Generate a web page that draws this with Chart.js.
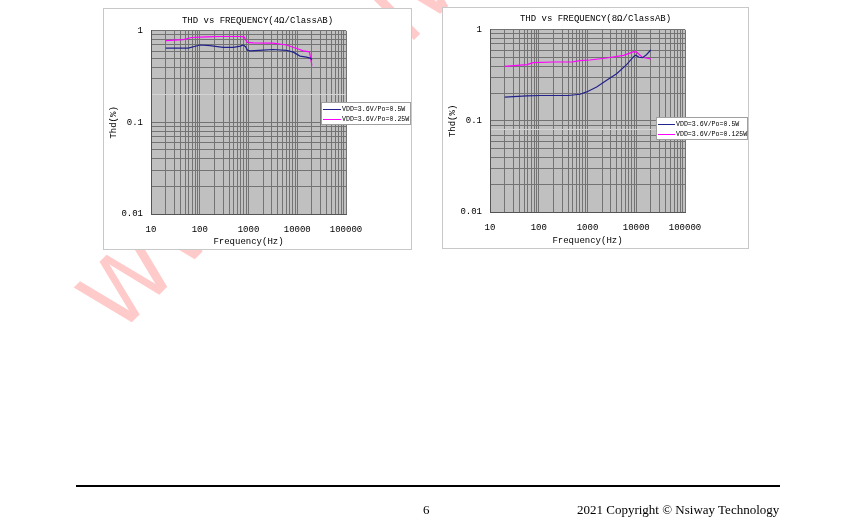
<!DOCTYPE html>
<html>
<head>
<meta charset="utf-8">
<script src="https://cdn.jsdelivr.net/npm/chart.js@4.4.0/dist/chart.umd.min.js"></script>
<style>
  body { margin: 0; background: #fff; width: 850px; height: 526px; position: relative; overflow: hidden; }
  #mark { position: absolute; left: 0; top: 0; }
  .box { position: absolute; border: 1px solid #c8c8c8; background: #fff; }
  .box div { position: relative; width: 307px; height: 240px; }
  #rule { position: absolute; left: 76px; top: 485px; width: 704px; height: 2px; background: #000; }
  .foot { position: absolute; top: 502px; font: 13px "Liberation Serif", serif; color: #000; white-space: nowrap; }
</style>
</head>
<body>
<canvas id="mark" width="850" height="526"></canvas>
<div class="box" style="left:103px; top:8px;"><div><canvas id="thd4"></canvas></div></div>
<div class="box" style="left:442px; top:7px;"><div style="width:305px"><canvas id="thd8"></canvas></div></div>
<div id="rule"></div>
<div class="foot" style="left:423px;">6</div>
<div class="foot" style="left:577px;">2021 Copyright © Nsiway Technology</div>

<script>
// axis ticks
const xMajor = [10, 100, 1000, 10000, 100000];
const xTickLabels = ['10', '100', '1000', '10000', '100000'];
const yMajor = [0.01, 0.1, 1];
const yTickLabels = ['0.01', '0.1', '1'];

// 4 ohm
const freq4Blue = [20, 58, 101, 162, 302, 490, 680, 780, 870, 950, 1070, 2000, 3200, 6000, 8300, 11400, 15500, 19000, 20000];
const thd4Blue = [0.647, 0.647, 0.70, 0.69, 0.66, 0.66, 0.68, 0.70, 0.67, 0.615, 0.605, 0.615, 0.625, 0.61, 0.585, 0.53, 0.515, 0.50, 0.48];
const freq4Pink = [20, 46, 68, 138, 260, 680, 810, 890, 950, 1260, 3200, 6000, 9800, 13300, 17800, 20000];
const thd4Pink = [0.78, 0.80, 0.845, 0.86, 0.867, 0.867, 0.86, 0.785, 0.746, 0.74, 0.735, 0.70, 0.64, 0.605, 0.59, 0.418];

// 8 ohm
const freq8Blue = [20, 57, 107, 405, 700, 960, 1540, 2470, 3960, 6340, 8900, 9800, 11400, 13400, 16200, 19800];
const thd8Blue = [0.182, 0.188, 0.19, 0.19, 0.196, 0.208, 0.236, 0.28, 0.33, 0.414, 0.51, 0.525, 0.50, 0.494, 0.533, 0.60];
const freq8Pink = [20, 57, 77, 200, 480, 700, 1120, 2470, 5500, 8900, 10200, 13200, 15800, 19800];
const thd8Pink = [0.397, 0.414, 0.436, 0.443, 0.443, 0.458, 0.466, 0.49, 0.525, 0.575, 0.57, 0.50, 0.49, 0.48];

// watermark behind the charts
const mk = document.getElementById('mark').getContext('2d');
mk.save();
mk.translate(118, 336);
mk.rotate(-Math.PI / 4);
mk.font = '90px "DejaVu Sans", sans-serif';
mk.fillStyle = 'rgba(255, 80, 80, 0.3)';
mk.fillText('WWW.NSIWAY.COM', 0, 0);
mk.restore();

function gridValues(major) {
    const vals = [];
    for (let i = 0; i < major.length - 1; i++) {
        for (let m = 1; m <= 9; m++) vals.push(m * major[i]);
    }
    vals.push(major[major.length - 1]);
    return vals;
}

function labelFor(v, major, labels) {
    const i = major.findIndex(m => Math.abs(m - v) < m * 1e-6);
    return i >= 0 ? labels[i] : '';
}

function pts(xs, ys) {
    return xs.map((x, i) => ({ x: x, y: ys[i] }));
}

const monoFont = { family: '"Liberation Mono", monospace', size: 9 };

const plotBg = {
    id: 'plotBg',
    beforeDraw(chart) {
        const { ctx, chartArea: a } = chart;
        ctx.save();
        ctx.fillStyle = '#c0c0c0';
        ctx.fillRect(a.left, a.top, a.width, a.height);
        ctx.restore();
    }
};

// legend box that sits over the right edge of the plot
const boxLegend = {
    id: 'boxLegend',
    afterDraw(chart, args, o) {
        const ctx = chart.ctx;
        ctx.save();
        ctx.fillStyle = '#fff';
        ctx.fillRect(o.x, o.y, o.w, o.h);
        ctx.strokeStyle = '#a0a0a0';
        ctx.lineWidth = 1;
        ctx.strokeRect(o.x + 0.5, o.y + 0.5, o.w - 1, o.h - 1);
        ctx.font = '6.6px "Liberation Mono", monospace';
        ctx.textBaseline = 'middle';
        chart.data.datasets.forEach((ds, i) => {
            const y = Math.round(o.y + o.firstRow + i * o.rowH) + 0.5;
            ctx.strokeStyle = ds.borderColor;
            ctx.beginPath();
            ctx.moveTo(o.x + 2, y);
            ctx.lineTo(o.x + 2 + o.lineLen, y);
            ctx.stroke();
            ctx.fillStyle = '#000';
            ctx.fillText(ds.label, o.x + 3 + o.lineLen, y);
        });
        ctx.restore();
    }
};

function makeChart(id, title, datasets, legendOpts, lay) {
    return new Chart(document.getElementById(id).getContext('2d'), {
        type: 'line',
        data: { datasets: datasets },
        plugins: [plotBg, boxLegend],
        options: {
            responsive: true,
            maintainAspectRatio: false,
            animation: false,
            layout: { padding: 0 },
            elements: { point: { radius: 0 }, line: { borderWidth: 1.2, tension: 0 } },
            plugins: {
                legend: { display: false },
                tooltip: { enabled: false },
                title: {
                    display: true,
                    text: title,
                    color: '#000',
                    font: { family: '"Liberation Mono", monospace', size: 9, weight: 'normal' },
                    padding: { top: lay.titleTop, bottom: 11 - lay.titleTop }
                },
                boxLegend: legendOpts
            },
            scales: {
                x: {
                    type: 'logarithmic',
                    min: 10,
                    max: 100000,
                    afterBuildTicks: s => { s.ticks = gridValues(xMajor).map(v => ({ value: v })); },
                    afterFit: s => { s.height = lay.xH; },
                    grid: { color: '#737373', drawTicks: false },
                    border: { color: '#555' },
                    ticks: {
                        autoSkip: false, maxRotation: 0, padding: 10, color: '#000', font: monoFont,
                        callback: v => labelFor(v, xMajor, xTickLabels)
                    },
                    title: { display: true, text: 'Frequency(Hz)', color: '#000', font: monoFont, padding: { top: 0, bottom: 2 } }
                },
                y: {
                    type: 'logarithmic',
                    min: 0.01,
                    max: 1,
                    afterBuildTicks: s => { s.ticks = gridValues(yMajor).map(v => ({ value: v })); },
                    afterFit: s => { s.width = 47; },
                    grid: {
                        drawTicks: false,
                        color: c => (c.tick && Math.abs(c.tick.value - lay.lightLine) < 1e-9 ? '#d4d4d4' : '#737373')
                    },
                    border: { color: '#555' },
                    ticks: {
                        autoSkip: false, padding: 8, color: '#000', font: monoFont,
                        callback: v => labelFor(v, yMajor, yTickLabels)
                    },
                    title: { display: true, text: 'Thd(%)', color: '#000', font: monoFont, padding: { top: 4, bottom: 0 } }
                },
                side: {
                    position: 'right',
                    grid: { display: false },
                    border: { display: false },
                    ticks: { display: false },
                    afterFit: s => { s.width = lay.rightW; }
                }
            }
        }
    });
}

makeChart('thd4', 'THD vs FREQUENCY(4Ω/ClassAB)', [
    { label: 'VDD=3.6V/Po=0.5W', data: pts(freq4Blue, thd4Blue), borderColor: '#23238c' },
    { label: 'VDD=3.6V/Po=0.25W', data: pts(freq4Pink, thd4Pink), borderColor: '#ff00ff' }
], { x: 217, y: 93, w: 90, h: 23, firstRow: 7.3, rowH: 9.7, lineLen: 18 },
   { titleTop: 6, xH: 35, rightW: 65, lightLine: 0.2 });

makeChart('thd8', 'THD vs FREQUENCY(8Ω/ClassAB)', [
    { label: 'VDD=3.6V/Po=0.5W', data: pts(freq8Blue, thd8Blue), borderColor: '#23238c' },
    { label: 'VDD=3.6V/Po=0.125W', data: pts(freq8Pink, thd8Pink), borderColor: '#ff00ff' }
], { x: 213, y: 109, w: 92, h: 23, firstRow: 7.3, rowH: 10, lineLen: 17 },
   { titleTop: 5, xH: 36, rightW: 63, lightLine: 0.08 });
</script>
</body>
</html>
